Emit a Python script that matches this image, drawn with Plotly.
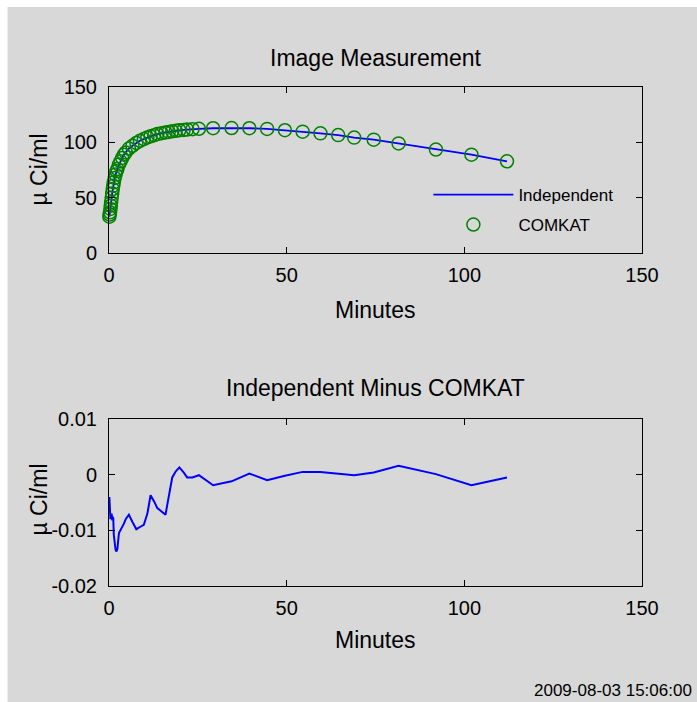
import plotly.graph_objects as go

# ---- data ----
minutes = [0.1, 0.2, 0.3, 0.4, 0.5, 0.6, 0.75, 0.9, 1.05, 1.2, 1.35, 1.6, 1.85, 2.1, 2.35,
           2.8, 3.25, 3.7, 4.2, 4.7, 5.6, 6.6, 7.7, 8.7, 9.8, 10.8, 11.7, 12.7, 13.6, 14.8,
           15.9, 16.8, 17.8, 18.8, 19.8, 21.0, 22.0, 23.5, 25.3, 29.3, 34.5, 39.5, 44.5,
           49.5, 54.5, 59.5, 64.5, 69.0, 74.5, 81.5, 92.0, 102.0, 112.0]
comkat = [33, 35, 37, 40, 43, 46, 50, 54, 58, 61, 64, 68, 71, 74, 76,
          80, 83, 86, 89, 91, 94.5, 97, 99.5, 101.5, 103, 104.5, 105.5, 106.5, 107.5, 108.3,
          109, 109.5, 110, 110.5, 111, 111.3, 111.6, 112, 112.3, 112.8, 113, 112.8, 112.2,
          111, 109.7, 108.2, 106.6, 104.4, 102.5, 99.1, 93.6, 89, 83]
difference = [-0.0040, -0.0055, -0.0068, -0.0080, -0.0072, -0.0078, -0.0070, -0.0082, -0.0076,
              -0.0078, -0.0108, -0.0130, -0.0135, -0.0138, -0.0134, -0.0105, -0.0100, -0.0095,
              -0.0088, -0.0080, -0.0072, -0.0085, -0.0098, -0.0094, -0.0090, -0.0070, -0.0037,
              -0.0048, -0.0060, -0.0066, -0.0072, -0.0040, -0.0005, 0.0006, 0.0013, 0.0004,
              -0.0005, -0.0005, -0.0001, -0.0019, -0.0012, 0.0002, -0.0010, -0.0002, 0.0005,
              0.0005, 0.0002, -0.0001, 0.0004, 0.0016, 0.0001, -0.0019, -0.0005]
independent = [c + d for c, d in zip(comkat, difference)]

x_ticks = [0, 50, 100, 150]
top_y_ticks = [0, 50, 100, 150]
bottom_y_ticks = [-0.02, -0.01, 0, 0.01]
bottom_y_ticktext = ["-0.02", "-0.01", "0", "0.01"]

# ---- geometry (pixels) ----
W, H = 697, 702
L, R, T, B = 108.5, 55.3, 87, 116
pw, ph = W - L - R, H - T - B


def px_x(p):
    return (p - L) / pw


def px_y(p):
    return (H - B - p) / ph


GREY = "rgb(216,216,216)"
TXT = "Liberation Sans, Arial, sans-serif"

fig = go.Figure()
fig.add_trace(go.Scatter(x=minutes, y=independent, mode="lines", name="Independent",
                         line=dict(color="rgb(0,0,255)", width=1.8),
                         xaxis="x", yaxis="y", legend="legend"))
fig.add_trace(go.Scatter(x=minutes, y=comkat, mode="markers", name="COMKAT",
                         cliponaxis=False,
                         marker=dict(symbol="circle-open", size=13,
                                     line=dict(color="rgb(0,128,0)", width=1.5),
                                     color="rgb(0,128,0)"),
                         xaxis="x", yaxis="y", legend="legend2"))
fig.add_trace(go.Scatter(x=minutes, y=difference, mode="lines", showlegend=False,
                         line=dict(color="rgb(0,0,255)", width=2),
                         xaxis="x2", yaxis="y2"))

axis_common = dict(showline=True, linecolor="black", linewidth=1, mirror="ticks",
                   ticks="inside", ticklen=6, tickcolor="black", showgrid=False,
                   zeroline=False, tickfont=dict(family=TXT, size=20, color="black"))

top_dom = [px_y(253.3), 1.0]
bot_dom = [0.0, px_y(419)]

fig.update_layout(
    width=W, height=H,
    margin=dict(l=L, r=R, t=T, b=B, autoexpand=False),
    paper_bgcolor="white", plot_bgcolor="white",
    xaxis=dict(domain=[0, 1], range=[0, 150], tickvals=x_ticks, anchor="y",
               ticklabelstandoff=4, **axis_common),
    yaxis=dict(domain=top_dom, range=[0, 150], tickvals=top_y_ticks, anchor="x",
               ticklabelstandoff=7, **axis_common),
    xaxis2=dict(domain=[0, 1], range=[0, 150], tickvals=x_ticks, anchor="y2",
                ticklabelstandoff=4, **axis_common),
    yaxis2=dict(domain=bot_dom, range=[-0.02, 0.01], tickvals=bottom_y_ticks,
                ticktext=bottom_y_ticktext, anchor="x2", ticklabelstandoff=7, **axis_common),
    legend=dict(x=px_x(428), y=px_y(177), xanchor="left", yanchor="top",
                bgcolor="rgba(0,0,0,0)", itemwidth=80,
                font=dict(family=TXT, size=17, color="black")),
    legend2=dict(x=px_x(428), y=px_y(207), xanchor="left", yanchor="top",
                 bgcolor="rgba(0,0,0,0)", itemwidth=80,
                 font=dict(family=TXT, size=17, color="black")),
    shapes=[dict(type="rect", xref="paper", yref="paper", layer="below",
                 x0=px_x(7), x1=px_x(W + 5), y0=px_y(H + 5), y1=px_y(7),
                 fillcolor=GREY, line=dict(width=0))],
)

ann_font = dict(family=TXT, size=23, color="black")
annotations = [
    dict(text="Image Measurement", x=0.5, y=px_y(58)),
    dict(text="Independent Minus COMKAT", x=0.5, y=px_y(388)),
    dict(text="Minutes", x=0.5, y=px_y(310)),
    dict(text="Minutes", x=0.5, y=px_y(640)),
]
for a in annotations:
    fig.add_annotation(xref="paper", yref="paper", showarrow=False, font=ann_font,
                       xanchor="center", yanchor="middle", **a)
for yc in (170, 500):
    fig.add_annotation(text="µ Ci/ml", xref="paper", yref="paper", x=px_x(38), y=px_y(yc),
                       textangle=-90, showarrow=False, font=ann_font,
                       xanchor="center", yanchor="middle")
fig.add_annotation(text="2009-08-03 15:06:00", xref="paper", yref="paper",
                   x=px_x(694), y=px_y(690), xanchor="right", yanchor="middle",
                   showarrow=False, font=dict(family=TXT, size=17, color="black"))

fig.write_html("out.html")
